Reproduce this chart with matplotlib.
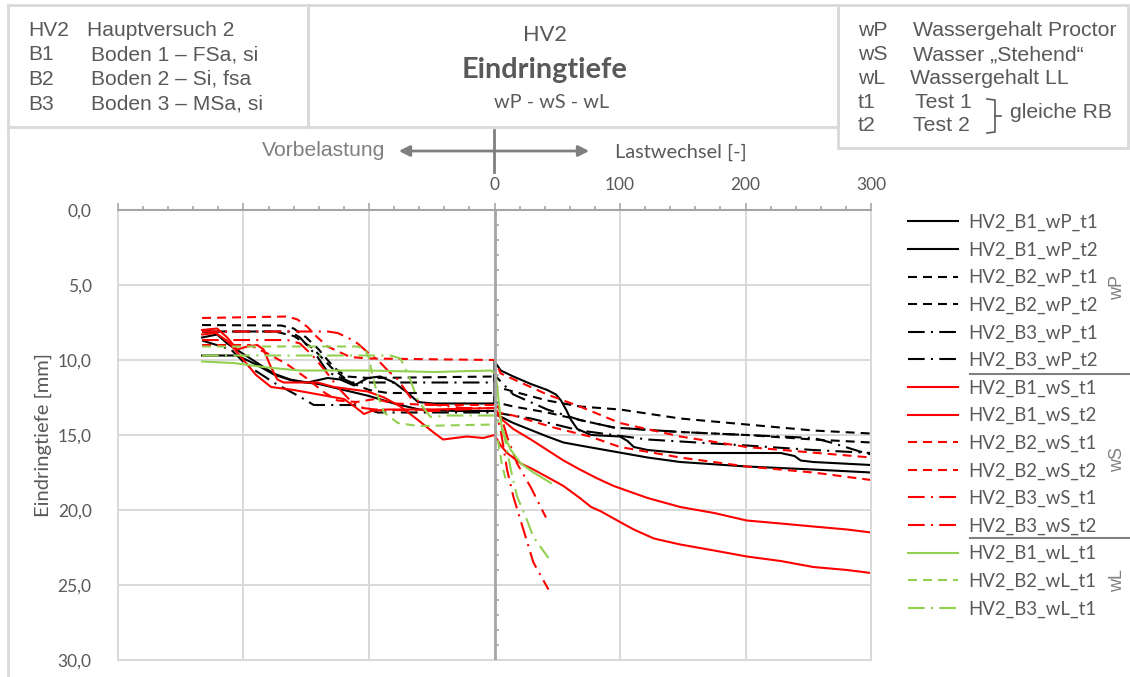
import matplotlib.pyplot as plt
from matplotlib.lines import Line2D
from matplotlib.patches import Rectangle, FancyArrowPatch
from matplotlib.ticker import MultipleLocator

# --- Daten: Vorbelastung (x < 0) und Lastwechsel (x >= 0), Eindringtiefe in mm ---
b1_wp_t1_x = [-233, -221, -213, -202, -189, -176, -163, -149, -133, -123, -112, -101, -91, -80, -69, -61, -49, 0,
              0, 5, 15, 29, 42, 49, 53, 57, 61, 66, 77, 100, 106, 111, 122, 148, 228, 239, 244, 254, 300]
b1_wp_t1_y = [8.5, 8.3, 8.9, 9.5, 10.2, 10.9, 11.3, 11.5, 11.2, 11.3, 11.7, 11.2, 11.1, 11.5, 12.2, 12.8, 12.9, 12.9,
              10.1, 10.7, 11.1, 11.6, 12.0, 12.3, 12.7, 13.3, 14.0, 14.6, 15.0, 15.1, 15.4, 15.8, 16.0, 16.2, 16.2,
              16.4, 16.7, 16.8, 17.0]

b1_wp_t2_x = [-233, -205, -190, -175, -160, -140, -120, -100, -80, -60, -30, 0,
              3, 15, 42, 55, 68, 95, 122, 148, 201, 254, 300]
b1_wp_t2_y = [9.7, 9.7, 10.3, 11.0, 11.4, 11.6, 12.0, 12.4, 12.9, 13.3, 13.4, 13.4,
              13.7, 14.2, 15.1, 15.5, 15.7, 16.1, 16.5, 16.8, 17.1, 17.3, 17.5]

b2_wp_t1_x = [-233, -170, -160, -150, -140, -128, -118, -100, 0,
              2, 15, 42, 68, 100, 148, 201, 254, 300]
b2_wp_t1_y = [7.67, 7.7, 7.9, 8.5, 9.3, 10.5, 11.1, 11.2, 11.1,
              11.8, 12.1, 12.7, 13.1, 13.3, 13.9, 14.3, 14.7, 14.9]

b2_wp_t2_x = [-233, -175, -160, -145, -130, -115, -100, -85, 0,
              0, 15, 42, 68, 95, 148, 201, 254, 300]
b2_wp_t2_y = [8.1, 8.1, 8.4, 9.2, 10.5, 11.5, 12.0, 12.2, 12.2,
              12.8, 13.1, 13.5, 14.0, 14.5, 14.8, 15.0, 15.3, 15.5]

b3_wp_t1_x = [-233, -163, -155, -141, -133, -122, -114, 0,
              0, 15, 42, 68, 95, 148, 201, 254, 268, 295, 300]
b3_wp_t1_y = [8.1, 8.1, 8.5, 9.8, 10.8, 11.2, 11.5, 11.5,
              11.0, 12.3, 13.3, 14.0, 14.5, 14.8, 15.0, 15.2, 15.5, 16.2, 16.3]

b3_wp_t2_x = [-233, -210, -198, -176, -154, -144, -112, -93, 0,
              29, 68, 122, 201, 254, 300]
b3_wp_t2_y = [8.7, 9.3, 10.3, 11.5, 12.5, 13.0, 13.0, 13.5, 13.5,
              13.9, 14.7, 15.3, 15.7, 16.0, 16.2]

b1_ws_t1_x = [-233, -221, -213, -205, -197, -189, -184, -178, -173, -168, -154, -141, -128, -101, -88, -75, -61,
              -49, -41, -22, -9, 0, 5, 10, 21, 31, 42, 55, 68, 77, 85, 100, 111, 127, 148, 175, 201, 228,
              254, 281, 300]
b1_ws_t1_y = [8.0, 7.9, 8.5, 9.3, 9.1, 9.0, 9.3, 10.5, 11.3, 11.5, 11.5, 11.5, 11.8, 12.1, 12.5, 13.1, 14.0,
              14.8, 15.3, 15.1, 15.2, 15.0, 15.7, 16.2, 16.9, 17.3, 17.8, 18.4, 19.2, 19.8, 20.1, 20.8, 21.3,
              21.9, 22.3, 22.7, 23.1, 23.4, 23.8, 24.0, 24.2]

b1_ws_t2_x = [-233, -222, -212, -202, -190, -178, -160, -140, -120, -110, -104, -98, -85, -50, 0,
              5, 15, 29, 42, 55, 68, 82, 95, 122, 148, 175, 201, 228, 254, 281, 300]
b1_ws_t2_y = [8.3, 8.2, 8.8, 9.8, 11.0, 11.8, 12.0, 12.3, 12.6, 13.2, 13.6, 13.4, 13.3, 13.3, 13.2,
              13.9, 14.6, 15.3, 16.0, 16.7, 17.3, 17.9, 18.4, 19.2, 19.8, 20.2, 20.7, 20.9, 21.1, 21.3, 21.5]

b2_ws_t1_x = [-233, -165, -157, -149, -141, -133, -115, -100, 0,
              5, 42, 68, 100, 148, 201, 300]
b2_ws_t1_y = [7.2, 7.1, 7.3, 7.8, 8.5, 9.1, 9.8, 9.9, 10.0,
              10.9, 12.3, 13.1, 14.2, 15.1, 15.8, 16.5]

b2_ws_t2_x = [-233, -195, -180, -165, -150, -135, -125, -110, -95, -80, -50, 0,
              2, 15, 47, 76, 100, 148, 201, 254, 300]
b2_ws_t2_y = [9.0, 9.0, 9.6, 10.3, 11.2, 12.2, 12.7, 12.8, 12.6, 12.9, 13.0, 13.0,
              13.5, 13.7, 14.5, 15.1, 15.8, 16.5, 17.1, 17.5, 18.0]

b3_ws_t1_x = [-233, -133, -125, -117, -109, -101, -93, -85, -77, -67, -57, -25, 0,
              5, 10, 15, 23, 31, 43]
b3_ws_t1_y = [8.1, 8.1, 8.2, 8.5, 8.9, 9.5, 10.0, 10.7, 11.3, 12.5, 12.9, 13.2, 13.2,
              14.7, 17.3, 19.1, 21.3, 23.5, 25.3]

b3_ws_t2_x = [-233, -165, -155, -145, -135, -125, -115, -105, -95, -50, 0,
              3, 10, 18, 29, 41]
b3_ws_t2_y = [8.67, 8.67, 8.9, 9.7, 10.7, 11.8, 12.7, 13.2, 13.3, 13.4, 13.2,
              13.1, 15.1, 16.9, 18.5, 20.5]

b1_wl_t1_x = [-233, -208, -181, -155, -101, -48, -3, 1, 3, 6, 13, 21, 31, 45]
b1_wl_t1_y = [10.1, 10.2, 10.5, 10.7, 10.7, 10.8, 10.7, 10.9, 12.5, 14.7, 16.0, 16.9, 17.5, 18.2]

b2_wl_t1_x = [-233, -109, -103, -100, -97, -93, -88, -77, -61, 0, 3, 6, 10]
b2_wl_t1_y = [9.1, 9.1, 9.3, 9.9, 11.1, 12.4, 13.5, 14.2, 14.4, 14.3, 15.5, 17.0, 18.3]

b3_wl_t1_x = [-233, -83, -75, -69, -65, -61, -51, -37, 0, 7, 13, 18, 26, 31, 43]
b3_wl_t1_y = [9.7, 9.7, 9.9, 10.9, 11.8, 12.7, 13.8, 13.7, 13.7, 14.7, 17.3, 19.1, 20.7, 21.8, 23.2]

y_ticks = [0, 5, 10, 15, 20, 25, 30]
y_labels = ["0,0", "5,0", "10,0", "15,0", "20,0", "25,0", "30,0"]
x_ticks = [-300, -200, -100, 0, 100, 200, 300]
x_labels = ["", "", "", "0", "100", "200", "300"]

BLACK, RED, GREEN = "#000000", "#ff0000", "#92d050"
SOLID = "-"
DASH = (0, (4.3, 2.9))
DASHDOT = (0, (8, 3, 1, 3))

series = [
    ("HV2_B1_wP_t1", b1_wp_t1_x, b1_wp_t1_y, BLACK, SOLID),
    ("HV2_B1_wP_t2", b1_wp_t2_x, b1_wp_t2_y, BLACK, SOLID),
    ("HV2_B2_wP_t1", b2_wp_t1_x, b2_wp_t1_y, BLACK, DASH),
    ("HV2_B2_wP_t2", b2_wp_t2_x, b2_wp_t2_y, BLACK, DASH),
    ("HV2_B3_wP_t1", b3_wp_t1_x, b3_wp_t1_y, BLACK, DASHDOT),
    ("HV2_B3_wP_t2", b3_wp_t2_x, b3_wp_t2_y, BLACK, DASHDOT),
    ("HV2_B1_wS_t1", b1_ws_t1_x, b1_ws_t1_y, RED, SOLID),
    ("HV2_B1_wS_t2", b1_ws_t2_x, b1_ws_t2_y, RED, SOLID),
    ("HV2_B2_wS_t1", b2_ws_t1_x, b2_ws_t1_y, RED, DASH),
    ("HV2_B2_wS_t2", b2_ws_t2_x, b2_ws_t2_y, RED, DASH),
    ("HV2_B3_wS_t1", b3_ws_t1_x, b3_ws_t1_y, RED, DASHDOT),
    ("HV2_B3_wS_t2", b3_ws_t2_x, b3_ws_t2_y, RED, DASHDOT),
    ("HV2_B1_wL_t1", b1_wl_t1_x, b1_wl_t1_y, GREEN, SOLID),
    ("HV2_B2_wL_t1", b2_wl_t1_x, b2_wl_t1_y, GREEN, DASH),
    ("HV2_B3_wL_t1", b3_wl_t1_x, b3_wl_t1_y, GREEN, DASHDOT),
]

TXT = "#595959"
GRID = "#d9d9d9"
AXC = "#a6a6a6"
CAL = ["Lato", "DejaVu Sans"]
ARI = ["Liberation Sans", "DejaVu Sans"]

W, H = 1130, 677
fig = plt.figure(figsize=(W / 100, H / 100), dpi=100)
renderer = fig.canvas.get_renderer()


def fx(px):
    return px / W


def fy(py):
    return 1 - py / H


def fit(t, size_px, vertical=False):
    # Schriftgröße so anpassen, dass die Textlänge passt
    bb = t.get_window_extent(renderer)
    cur = bb.height if vertical else bb.width
    t.set_fontsize(t.get_fontsize() * size_px / cur)
    return t.get_fontsize()


def ftext(px, py, s, width=None, **kw):
    kw.setdefault("color", TXT)
    kw.setdefault("va", "center")
    kw.setdefault("family", ARI)
    kw.setdefault("fontsize", 11)
    t = fig.text(fx(px), fy(py), s, **kw)
    if width:
        fit(t, width)
    return t


ax = fig.add_axes([fx(118), fy(660), fx(871) - fx(118), fy(210) - fy(660)])
for name, xs, ys, col, ls in series:
    ax.plot(xs, ys, color=col, linestyle=ls, lw=1.5, label=name, zorder=2)

ax.set_xlim(-300, 300)
ax.set_ylim(30, 0)
ax.set_yticks(y_ticks, y_labels)
ax.set_xticks(x_ticks, x_labels)
ax.xaxis.set_minor_locator(MultipleLocator(20))
ax.xaxis.set_ticks_position("top")
ax.grid(True, color=GRID, lw=1.4, zorder=0)
ax.set_axisbelow(True)
for s in ["left", "right", "bottom"]:
    ax.spines[s].set_color(GRID)
    ax.spines[s].set_linewidth(1.4)
ax.spines["top"].set_color(AXC)
ax.spines["top"].set_linewidth(1.5)
ax.tick_params(axis="x", which="major", length=5, width=1.2, color=AXC, pad=7,
               labelcolor=TXT, labelsize=12.5)
ax.tick_params(axis="x", which="minor", length=3, width=1.2, color=AXC)
ax.tick_params(axis="y", length=0, pad=19, labelcolor=TXT, labelsize=12.5)
for lab in ax.get_xticklabels() + ax.get_yticklabels():
    lab.set_family(CAL)
ylab = ax.set_ylabel("Eindringtiefe [mm]", color=TXT, fontsize=12, family=CAL)
fit(ylab, 163, vertical=True)
ax.yaxis.set_label_coords(fx(52 - 118) / (fx(871) - fx(118)), 0.5)

# vertikale Achse bei x = 0
ax.axvline(0, color=AXC, lw=2, zorder=3)
sec = ax.secondary_yaxis(0.5)
sec.set_yticks(y_ticks, [])
sec.yaxis.set_minor_locator(MultipleLocator(1))
sec.spines["left"].set_color(AXC)
sec.spines["left"].set_linewidth(2)
sec.tick_params(which="major", length=5, width=1.2, color=AXC)
sec.tick_params(which="minor", length=3, width=1.2, color=AXC)

# Legende
leg = fig.legend(loc="upper left", bbox_to_anchor=(fx(908), fy(214)), frameon=False,
                 prop={"family": CAL, "size": 13.4}, labelcolor=TXT, handlelength=2.7,
                 handletextpad=0.55, labelspacing=0.555, borderpad=0, borderaxespad=0)
for ypx in (374, 538):
    fig.add_artist(Line2D([fx(970), fx(1130)], [fy(ypx), fy(ypx)], color="#7f7f7f", lw=1.5))
for lbl, ypx in (("wP", 287), ("wS", 460), ("wL", 580)):
    ftext(1118, ypx, lbl, rotation=90, ha="center", color="#7f7f7f", fontsize=13)

# Kopfbereich
for x0, x1, y0, y1 in [(8, 308, 5, 127), (308, 838, 5, 127), (838, 1128, 5, 148)]:
    fig.add_artist(Rectangle((fx(x0), fy(y1)), fx(x1) - fx(x0), fy(y0) - fy(y1),
                             fill=False, edgecolor=GRID, lw=2))
fig.add_artist(Line2D([fx(8), fx(8)], [fy(127), fy(677)], color=GRID, lw=2))

rows1 = [("HV2", "Hauptversuch 2", 87), ("B1", "Boden 1 – FSa, si", 91),
         ("B2", "Boden 2 – Si, fsa", 91), ("B3", "Boden 3 – MSa, si", 91)]
size1 = fit(fig.text(0, 0, rows1[1][1], family=ARI, fontsize=12, alpha=0), 167)
for i, (code, txt, xs) in enumerate(rows1):
    ftext(28, 30 + 24.7 * i, code, fontsize=size1)
    ftext(xs, 30 + 24.7 * i, txt, fontsize=size1)

ftext(545, 35, "HV2", ha="center", family=CAL, width=44)
ftext(545, 70, "Eindringtiefe", ha="center", family=CAL, weight="bold", width=165)
ftext(552, 103, "wP - wS - wL", ha="center", family=CAL, width=115)

rows3 = [("wP", "Wassergehalt Proctor", 913), ("wS", "Wasser „Stehend“", 913),
         ("wL", "Wassergehalt LL", 910), ("t1", "Test 1", 915), ("t2", "Test 2", 913)]
size3 = fit(fig.text(0, 0, rows3[0][1], family=ARI, fontsize=12, alpha=0), 204)
for i, (code, txt, xs) in enumerate(rows3):
    ftext(858, 31 + 23.7 * i, code, fontsize=size3)
    ftext(xs, 31 + 23.7 * i, txt, fontsize=size3)
fig.add_artist(Line2D([fx(987), fx(995), fx(995), fx(987)], [fy(99), fy(100), fy(132), fy(133)],
                      color=TXT, lw=1.2))
fig.add_artist(Line2D([fx(995), fx(1001)], [fy(116), fy(116)], color=TXT, lw=1.2))
ftext(1010, 112, "gleiche RB", width=102)

# Pfeil Vorbelastung / Lastwechsel
ftext(385, 150, "Vorbelastung", ha="right", width=123, color="#7f7f7f")
ftext(615, 152, "Lastwechsel [-]", family=CAL, width=132)
fig.add_artist(FancyArrowPatch((fx(396), fy(151)), (fx(592), fy(151)), transform=fig.transFigure,
                               arrowstyle="<|-|>", mutation_scale=16, color="#7f7f7f", lw=2))
fig.add_artist(Line2D([fx(494), fx(494)], [fy(130), fy(172)], color="#7f7f7f", lw=2))

fig.savefig("out.png", dpi=100)
